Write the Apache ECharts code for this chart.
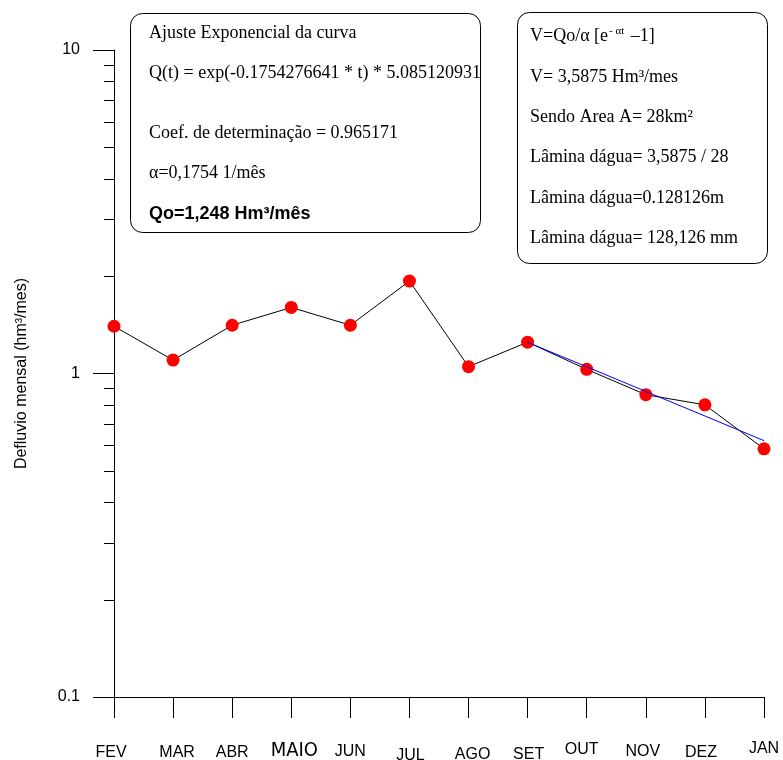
<!DOCTYPE html>
<html>
<head>
<meta charset="utf-8">
<title>Defluvio mensal</title>
<script src="https://cdn.jsdelivr.net/npm/echarts@6/dist/echarts.min.js"></script>
<style>
  html, body { margin: 0; padding: 0; background: #fff; }
  #chart { width: 783px; height: 760px; }
</style>
</head>
<body>
<div id="chart"></div>
<script>
// Months of the hydrological year
const months = ['FEV', 'MAR', 'ABR', 'MAIO', 'JUN', 'JUL', 'AGO', 'SET', 'OUT', 'NOV', 'DEZ', 'JAN'];
// Monthly runoff (hm³/mês)
const defluvio = [1.40, 1.10, 1.41, 1.60, 1.41, 1.93, 1.05, 1.25, 1.03, 0.86, 0.80, 0.585];
// Exponential recession fit Q(t), SET → JAN
const ajuste = [null, null, null, null, null, null, null, 1.248, 1.049, 0.880, 0.739, 0.620];
// Y axis labels and minor tick values
const yLabels = { '0.1': '0.1', '1': '1', '10': '10' };
const minorTicks = [0.2, 0.3, 0.4, 0.5, 0.6, 0.7, 0.8, 0.9, 2, 3, 4, 5, 6, 7, 8, 9];

// Box texts
const ajusteLines = [
  'Ajuste Exponencial da curva',
  'Q(t) = exp(-0.1754276641 * t) * 5.085120931',
  'Coef. de determinação = 0.965171',
  'α=0,1754 1/mês'
];
const qoText = 'Qo=1,248 Hm³/mês';
const volumeLines = [
  'V= 3,5875 Hm³/mes',
  'Sendo Area A= 28km²',
  'Lâmina dágua= 3,5875 / 28',
  'Lâmina dágua=0.128126m',
  'Lâmina dágua= 128,126 mm'
];

const SERIF = "'Liberation Serif', 'Times New Roman', serif";
const SANS = "'Liberation Sans', Arial, sans-serif";

// per-label nudges for the month labels: [top, left, right]
const labelNudge = {
  FEV: [4, 0, 6], MAR: [4, 8, 0], ABR: [4, 0, 0], MAIO: [0, 6, 0], JUN: [3, 0, 0], JUL: [7, 2, 0],
  AGO: [6, 8, 0], SET: [6, 2, 0], OUT: [1, 0, 10], NOV: [3, 0, 6], DEZ: [4, 0, 8], JAN: [0, 0, 0]
};
const rich = {};
months.forEach(function (m, i) {
  const n = labelNudge[m];
  rich['m' + i] = {
    fontFamily: m === 'MAIO' ? "'DejaVu Sans Condensed', " + SANS : SANS,
    fontSize: m === 'MAIO' ? 20 : 16,
    color: '#000',
    padding: [n[0], n[2], 0, n[1]]
  };
});

const chart = echarts.init(document.getElementById('chart'), null, { renderer: 'canvas' });

const graphic = [
  { type: 'rect', shape: { x: 130.5, y: 13.5, width: 350, height: 219, r: 12 },
    style: { fill: '#fff', stroke: '#000', lineWidth: 1 }, z: 10 },
  { type: 'rect', shape: { x: 517.5, y: 12.5, width: 250, height: 251, r: 12 },
    style: { fill: '#fff', stroke: '#000', lineWidth: 1 }, z: 10 }
];
const box1Y = [33, 73, 133, 173];
ajusteLines.forEach(function (t, i) {
  graphic.push({ type: 'text', x: 149, y: box1Y[i], z: 11,
    style: { text: t, font: '18px ' + SERIF, fill: '#000', verticalAlign: 'middle' } });
});
graphic.push({ type: 'text', x: 149, y: 214, z: 11,
  style: { text: qoText, font: 'bold 18px ' + SANS, fill: '#000', verticalAlign: 'middle' } });

graphic.push({ type: 'text', x: 530, y: 36, z: 11,
  style: {
    text: '{n|V=Qo/α [e}{s|- αt}{n| –1]}',
    verticalAlign: 'middle',
    rich: {
      n: { font: '18px ' + SERIF, fill: '#000', lineHeight: 20 },
      s: { font: '11px ' + SERIF, fill: '#000', lineHeight: 20, verticalAlign: 'top', padding: [0, 2, 0, 1] }
    }
  } });
const box2Y = [77, 117, 157, 198, 238];
volumeLines.forEach(function (t, i) {
  graphic.push({ type: 'text', x: 530, y: box2Y[i], z: 11,
    style: { text: t, font: '18px ' + SERIF, fill: '#000', verticalAlign: 'middle' } });
});

chart.setOption({
  animation: false,
  backgroundColor: '#fff',
  grid: { left: 114, right: 19, top: 50, bottom: 63, containLabel: false, outerBoundsMode: 'none' },
  xAxis: {
    type: 'category',
    data: months,
    boundaryGap: false,
    axisLine: { lineStyle: { color: '#000', width: 1 } },
    axisTick: { length: 21, interval: 0, lineStyle: { color: '#000' } },
    axisLabel: {
      interval: 0,
      margin: 44,
      hideOverlap: false,
      formatter: function (v, i) { return '{m' + i + '|' + v + '}'; },
      rich: rich
    },
    splitLine: { show: false }
  },
  yAxis: {
    type: 'log',
    logBase: 10,
    min: 0.1,
    max: 10,
    name: 'Defluvio mensal (hm³/mes)',
    nameLocation: 'middle',
    nameGap: 84,
    nameTextStyle: { fontFamily: SANS, fontSize: 16, color: '#000' },
    axisLine: { show: true, lineStyle: { color: '#000', width: 1 } },
    axisTick: { show: true, length: 21, lineStyle: { color: '#000' } },
    axisLabel: {
      margin: 34,
      fontFamily: SANS,
      fontSize: 16,
      color: '#000',
      formatter: function (v) { return yLabels[String(+v.toPrecision(3))] || ''; }
    },
    splitLine: { show: false }
  },
  series: [
    {
      name: 'Defluvio',
      type: 'line',
      data: defluvio,
      symbol: 'circle',
      symbolSize: 13,
      itemStyle: { color: '#ff0000' },
      lineStyle: { color: '#000', width: 1 },
      z: 2
    },
    {
      name: 'Ajuste',
      type: 'line',
      data: ajuste,
      symbol: 'none',
      lineStyle: { color: '#0000ff', width: 1 },
      z: 3
    },
    {
      name: 'minor',
      type: 'custom',
      silent: true,
      clip: false,
      data: minorTicks.map(function (v) { return [0, v]; }),
      renderItem: function (params, api) {
        const p = api.coord([0, api.value(1)]);
        const y = Math.round(p[1]) + 0.5;
        return {
          type: 'line',
          shape: { x1: p[0] - 10, y1: y, x2: p[0], y2: y },
          style: { stroke: '#000', lineWidth: 1 }
        };
      }
    }
  ],
  graphic: graphic
});
</script>
</body>
</html>
